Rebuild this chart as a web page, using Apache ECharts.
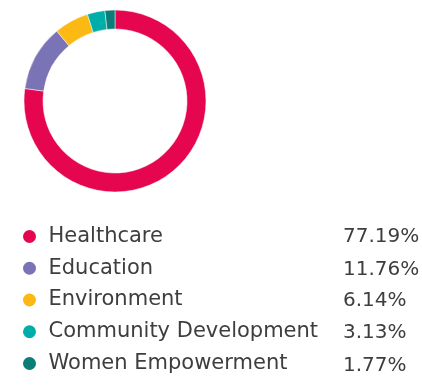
<!DOCTYPE html>
<html>
<head>
<meta charset="utf-8">
<script src="https://cdn.jsdelivr.net/npm/echarts@6/dist/echarts.min.js"></script>
<style>
  html, body { margin: 0; padding: 0; background: #fff; }
  #chart { width: 422px; height: 386px; }
</style>
</head>
<body>
<div id="chart"></div>
<script>
// Share of spending by focus area (%)
const categories = ['Healthcare', 'Education', 'Environment', 'Community Development', 'Women Empowerment'];
const shares = [77.19, 11.76, 6.14, 3.13, 1.77];
const colors = ['#E60650', '#7A73B5', '#FDB913', '#00ADA9', '#0B7C77'];

const FONT = '"DejaVu Sans", sans-serif';
const TEXT_COLOR = '#3e3e3e';

const chart = echarts.init(document.getElementById('chart'), null, { renderer: 'canvas' });

// Percentage column to the right of the legend (vertical centre of each row)
const pctRowY = [237, 270, 301, 333, 366];
const pctTexts = shares.map((v, i) => ({
  type: 'text',
  x: 343,
  y: pctRowY[i],
  style: {
    text: v.toFixed(2) + '%',
    font: '20px ' + FONT,
    fill: TEXT_COLOR,
    verticalAlign: 'middle',
    align: 'left'
  }
}));

chart.setOption({
  animation: false,
  color: colors,
  legend: {
    orient: 'vertical',
    left: 16,
    top: 221,
    padding: 5,
    itemWidth: 28,
    itemHeight: 15,
    itemGap: 10.75,
    icon: 'circle',
    textStyle: {
      fontFamily: FONT,
      fontSize: 21,
      lineHeight: 21,
      color: TEXT_COLOR
    },
    data: categories
  },
  graphic: pctTexts,
  series: [{
    type: 'pie',
    center: [115, 101],
    radius: [72, 91],
    startAngle: 90,
    clockwise: true,
    label: { show: false },
    labelLine: { show: false },
    emphasis: { disabled: true },
    itemStyle: { borderColor: '#fff', borderWidth: 0.5 },
    data: categories.map((name, i) => ({ name, value: shares[i] }))
  }]
});
</script>
</body>
</html>
